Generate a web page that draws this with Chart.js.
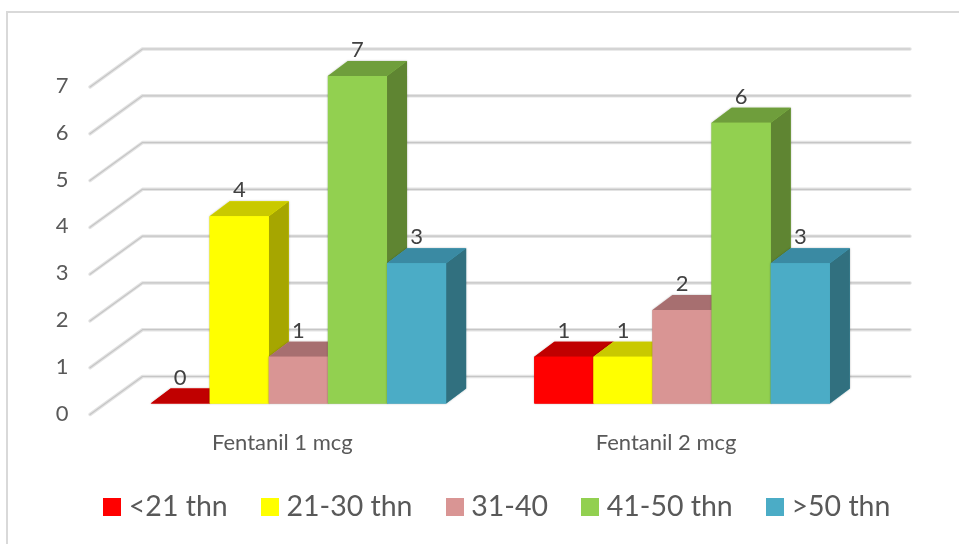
<!DOCTYPE html>
<html>
<head>
<meta charset="utf-8">
<script src="https://cdn.jsdelivr.net/npm/chart.js@4/dist/chart.umd.min.js"></script>
<style>
  html, body { margin: 0; padding: 0; background: #fff; }
  #wrap { width: 959px; height: 544px; position: relative; }
</style>
</head>
<body>
<div id="wrap"><canvas id="chart" width="959" height="544"></canvas></div>
<script>
const categories = ['Fentanil 1 mcg', 'Fentanil 2 mcg'];
const seriesNames = ['<21 thn', '21-30 thn', '31-40', '41-50 thn', '>50 thn'];
const under21 = [0, 1];
const from21to30 = [4, 1];
const from31to40 = [1, 2];
const from41to50 = [7, 6];
const over50 = [3, 3];
const frontColors = ['#ff0000', '#ffff00', '#d99594', '#92d050', '#4bacc6'];
const topColors = ['#c00000', '#c9c900', '#a76f70', '#6f9e3c', '#3a8aa3'];
const sideColors = ['#a00000', '#a6a600', '#8c5c5c', '#5f8532', '#31707f'];

const DEPTH_X = 20, DEPTH_Y = 15;   // bar depth
const WALL_X = 36, WALL_Y = 27;     // front plane to back wall
const FLOOR_X = 16.5, FLOOR_Y = 11; // front plane to front edge of floor

function swatch(color){
  const c = document.createElement('canvas');
  c.width = 18; c.height = 18;
  const g = c.getContext('2d');
  g.fillStyle = color;
  g.fillRect(0, 0, 18, 18);
  return c;
}

function poly(ctx, pts, fill){
  ctx.beginPath();
  pts.forEach((p, i) => i ? ctx.lineTo(p[0], p[1]) : ctx.moveTo(p[0], p[1]));
  ctx.closePath();
  ctx.fillStyle = fill;
  ctx.fill();
}

// frame + 3d grid, drawn under the bars
const wallGrid = {
  id: 'wallGrid',
  afterLayout(chart){
    // legend is centred on the whole picture, not on what the right padding leaves
    const l = chart.legend;
    l.left += 63; l.right += 63;
    l.top -= 13; l.bottom -= 13;
  },
  beforeDatasetsDraw(chart){
    const { ctx, chartArea, scales: { y } } = chart;
    ctx.save();
    ctx.strokeStyle = '#d9d9d9';
    ctx.lineWidth = 2;
    ctx.strokeRect(7, 12, 1000, 600);
    ctx.lineCap = 'round';
    ctx.lineJoin = 'round';
    y.ticks.forEach(t => {
      const py = y.getPixelForValue(t.value);
      const path = () => {
        ctx.beginPath();
        ctx.moveTo(chartArea.left - FLOOR_X, py + FLOOR_Y);
        ctx.lineTo(chartArea.left + WALL_X, py - WALL_Y);
        ctx.lineTo(chartArea.right + WALL_X, py - WALL_Y);
      };
      path(); ctx.strokeStyle = '#e3e3e3'; ctx.lineWidth = 3.5; ctx.stroke();
      path(); ctx.strokeStyle = '#c6c6c6'; ctx.lineWidth = 1.2; ctx.stroke();
    });
    ctx.restore();
  },
  afterDatasetsDraw(chart){
    const { ctx } = chart;
    categories.forEach((_, i) => {
      chart.data.datasets.forEach((ds, d) => {
        const bar = chart.getDatasetMeta(d).data[i];
        const l = bar.x - bar.width / 2, r = bar.x + bar.width / 2;
        const t = bar.y, b = bar.base;
        const outline = [[l, b], [l, t], [l + DEPTH_X, t - DEPTH_Y], [r + DEPTH_X, t - DEPTH_Y], [r + DEPTH_X, b - DEPTH_Y], [r, b]];
        ctx.save();
        ctx.shadowColor = 'rgba(0,0,0,0.35)';
        ctx.shadowBlur = 2;
        poly(ctx, outline, frontColors[d]);
        ctx.restore();
        poly(ctx, [[r, b], [r, t], [r + DEPTH_X, t - DEPTH_Y], [r + DEPTH_X, b - DEPTH_Y]], sideColors[d]);
        poly(ctx, [[l, t], [l + DEPTH_X, t - DEPTH_Y], [r + DEPTH_X, t - DEPTH_Y], [r, t]], topColors[d]);
        bar.draw(ctx);
      });
    });
    // value labels
    ctx.save();
    ctx.font = '22px Lato';
    ctx.fillStyle = '#404040';
    ctx.textAlign = 'center';
    ctx.textBaseline = 'middle';
    chart.data.datasets.forEach((ds, d) => {
      chart.getDatasetMeta(d).data.forEach((bar, i) => {
        ctx.fillText(ds.data[i], bar.x, bar.y - 26);
      });
    });
    ctx.restore();
  }
};

new Chart(document.getElementById('chart'), {
  type: 'bar',
  plugins: [wallGrid],
  data: {
    labels: categories,
    datasets: [under21, from21to30, from31to40, from41to50, over50].map((values, i) => ({
      label: seriesNames[i],
      data: values,
      backgroundColor: frontColors[i],
      borderWidth: 0,
      barPercentage: 1,
      categoryPercentage: 0.77
    }))
  },
  options: {
    responsive: false,
    animation: false,
    layout: { padding: { top: 76, right: 85, left: 0, bottom: 0 } },
    plugins: {
      tooltip: { enabled: false },
      legend: {
        position: 'bottom',
        labels: {
          font: { family: 'Lato', size: 28.5 },
          color: '#595959',
          padding: 39.5,
          boxWidth: 5,
          boxHeight: 18,
          usePointStyle: true,
          generateLabels(chart){
            return chart.data.datasets.map((ds, i) => ({
              text: ds.label,
              datasetIndex: i,
              fontColor: '#595959',
              pointStyle: swatch(frontColors[i]),
              lineWidth: 0
            }));
          }
        }
      }
    },
    scales: {
      x: {
        afterFit(s){ s.height = 62.5; },
        grid: { display: false },
        border: { display: false },
        ticks: {
          color: '#595959',
          font: { family: 'Lato', size: 22 },
          labelOffset: -16,
          padding: 18,
          maxRotation: 0
        }
      },
      y: {
        min: 0,
        max: 7,
        afterFit(s){ s.width = 106.5; },
        grid: { display: false, drawTicks: false },
        border: { display: false },
        ticks: {
          stepSize: 1,
          color: '#595959',
          font: { family: 'Lato', size: 22 },
          labelOffset: 10,
          padding: 38
        }
      }
    }
  }
});
</script>
</body>
</html>
